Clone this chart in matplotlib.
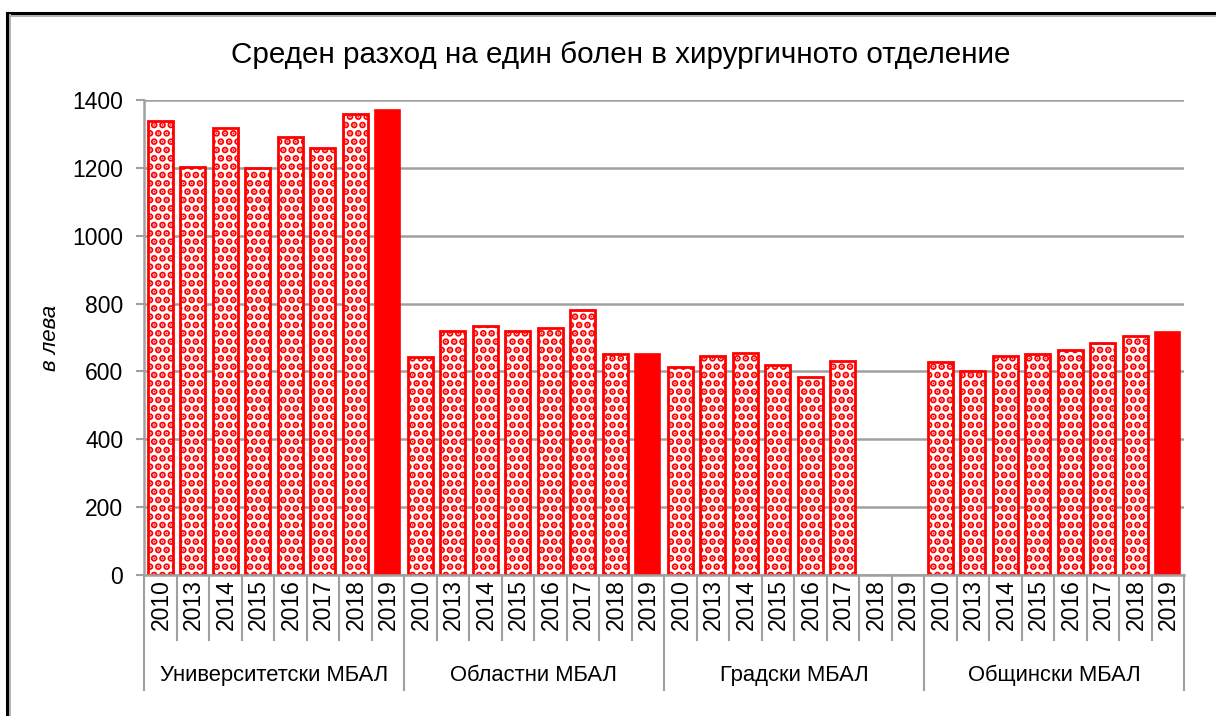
import numpy as np
import matplotlib
matplotlib.use("Agg")
import matplotlib.pyplot as plt
from matplotlib.lines import Line2D

plt.rcParams['font.family'] = ['Liberation Sans', 'DejaVu Sans']
plt.rcParams['hatch.linewidth'] = 3.5

title = "Среден разход на един болен в хирургичното отделение"
groups = ["Университетски МБАЛ", "Областни МБАЛ", "Градски МБАЛ", "Общински МБАЛ"]
years = ["2010", "2013", "2014", "2015", "2016", "2017", "2018", "2019"]

univ = [1338, 1203, 1318, 1200, 1292, 1260, 1358, 1372]
oblast = [643, 720, 735, 718, 728, 782, 650, 650]
grad = [613, 645, 655, 618, 583, 632, np.nan, np.nan]
obsht = [628, 601, 645, 652, 663, 684, 704, 717]
values = [univ, oblast, grad, obsht]

red = "#ff0000"
grid_c = "#a0a0a0"

fig = plt.figure(figsize=(12.16, 7.16), dpi=100)
ax = fig.add_axes([144 / 1216, 1 - 575 / 716, 1040 / 1216, 475 / 716])

n = len(years)
for g, vals in enumerate(values):
    for i, v in enumerate(vals):
        if np.isnan(v):
            continue
        x = g * n + i
        if years[i] == "2019":
            ax.bar(x, v, width=0.76, color=red, edgecolor=red, linewidth=1.2)
        else:
            ax.bar(x, v, width=0.76, facecolor="white", edgecolor=red,
                   hatch="..", linewidth=2.0)

ax.set_xlim(-0.5, len(groups) * n - 0.5)
ax.set_ylim(0, 1400)
ax.set_yticks(range(0, 1401, 200))
ax.tick_params(axis='y', labelsize=16.5, length=6, color=grid_c, width=1.5, pad=9)
ax.set_xticks([])
ax.yaxis.grid(True, color=grid_c, linewidth=1.8)
ax.set_axisbelow(True)
for s in ["top", "right"]:
    ax.spines[s].set_visible(False)
for s in ["left", "bottom"]:
    ax.spines[s].set_color(grid_c)
    ax.spines[s].set_linewidth(1.8)
ax.set_ylabel("в лева", fontsize=16, style="italic", labelpad=8)

fig.suptitle(title, fontsize=21.3, x=621 / 1216, y=1 - 55 / 716, va="center")

# multi-level category axis
trans = ax.get_xaxis_transform()
y_year = -65 / 475
y_grp = -115 / 475
for g in range(len(groups)):
    for i in range(n):
        x = g * n + i
        ax.text(x + 0.02, -0.008, years[i], transform=trans, rotation=90,
                ha="center", va="top", fontsize=16.5)
    for i in range(1, n):
        ax.add_line(Line2D([g * n + i - 0.5] * 2, [0, y_year], transform=trans,
                           color=grid_c, linewidth=1.5, clip_on=False))
    ax.text(g * n + (n - 1) / 2, -0.212, groups[g], transform=trans,
            ha="center", va="center", fontsize=15.8)
for g in range(len(groups) + 1):
    ax.add_line(Line2D([g * n - 0.5] * 2, [0, y_grp], transform=trans,
                       color=grid_c, linewidth=1.5, clip_on=False))

# chart frame
fig.add_artist(Line2D([7 / 1216, 7 / 1216], [0, 1 - 13 / 716], color="black", linewidth=2.2))
fig.add_artist(Line2D([7 / 1216, 1], [1 - 13 / 716] * 2, color="black", linewidth=2.2))
fig.add_artist(Line2D([9.5 / 1216, 9.5 / 1216], [0, 1 - 15 / 716], color="#b0b0b0", linewidth=1.4))
fig.add_artist(Line2D([9.5 / 1216, 1], [1 - 15.5 / 716] * 2, color="#b0b0b0", linewidth=1.4))

fig.savefig("out.png", dpi=100)
